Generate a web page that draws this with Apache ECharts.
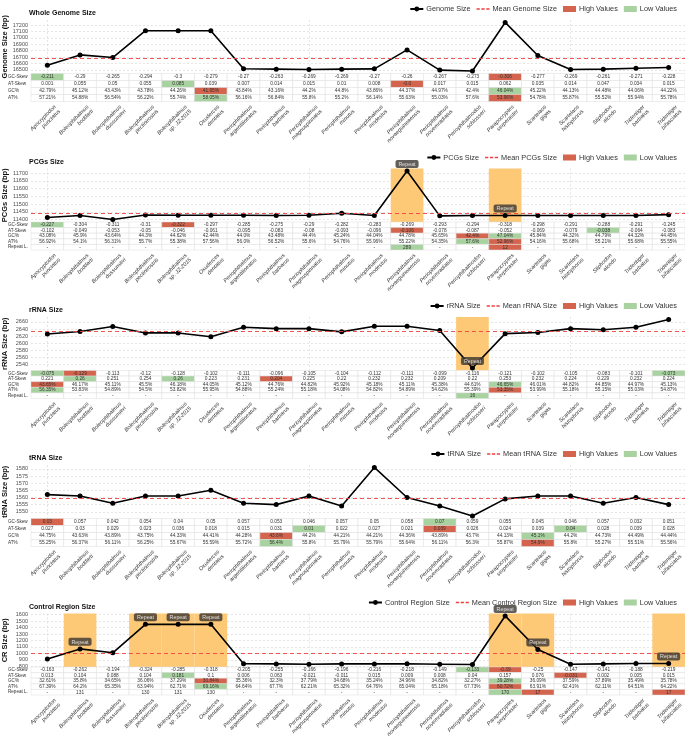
<!DOCTYPE html>
<html><head><meta charset="utf-8">
<script src="https://cdn.jsdelivr.net/npm/echarts@6/dist/echarts.min.js"></script>
<style>html,body{margin:0;padding:0;background:#fff}#c{width:685px;height:740px}</style>
</head><body><div id="c"></div>
<script>
// ---------------- DATA ----------------
const species = ['Apocryptodon punctatus','Boleophthalmus boddarti','Boleophthalmus dussumieri','Boleophthalmus pectinirostris','Boleophthalmus sp. JZ-2015','Oxuderces dentatus','Periophthalmus argentilineatus','Periophthalmus barbarus','Periophthalmus magnuspinnatus','Periophthalmus minutus','Periophthalmus modestus','Periophthalmus novaeguineaensis','Periophthalmus novemradiatus','Periophthalmodon schlosseri','Parapocryptes serperaster','Scartelaos gigas','Scartelaos histophorus','Stiphodon alcedo','Tridentiger barbatus','Tridentiger bifasciatus'];

// Whole genome
const genomeSize = [16572,16733,16692,17111,17111,17111,16516,16510,16505,16510,16515,16811,16495,16480,17241,16723,16505,16510,16525,16536];
const genomeGcSkew = ['-0.211','-0.29','-0.265','-0.294','-0.3','-0.279','-0.27','-0.263','-0.269','-0.269','-0.27','-0.26','-0.267','-0.273','-0.306','-0.277','-0.269','-0.261','-0.271','-0.228'];
const genomeAtSkew = ['0.001','0.055','0.05','0.055','0.085','0.039','0.007','0.014','0.015','0.01','0.008','-0.0','0.017','0.015','0.062','0.035','0.014','0.047','0.034','0.015'];
const genomeGc = ['42.79%','45.12%','43.43%','43.78%','44.26%','41.95%','43.84%','43.16%','44.2%','44.8%','43.86%','44.37%','44.97%','42.4%','46.04%','45.22%','44.13%','44.48%','44.06%','44.22%'];
const genomeAt = ['57.21%','54.88%','56.54%','56.22%','55.74%','58.05%','56.16%','56.84%','55.8%','55.2%','56.14%','55.63%','55.03%','57.6%','53.96%','54.78%','55.87%','55.52%','55.94%','55.78%'];
const genomeHighlights = [['GC-Skew',0,'L'],['GC-Skew',14,'H'],['AT-Skew',4,'L'],['AT-Skew',11,'H'],['GC%',5,'H'],['GC%',14,'L'],['AT%',5,'L'],['AT%',14,'H']];

// PCGs
const pcgSize = [11413,11426,11400,11430,11428,11428,11428,11426,11428,11441,11426,11715,11424,11426,11426,11426,11426,11426,11426,11432];
const pcgGcSkew = ['-0.227','-0.304','-0.311','-0.31','-0.322','-0.297','-0.285','-0.275','-0.29','-0.282','-0.283','-0.269','-0.293','-0.294','-0.318','-0.298','-0.291','-0.288','-0.291','-0.245'];
const pcgAtSkew = ['-0.102','-0.049','-0.053','-0.05','-0.046','-0.061','-0.095','-0.083','-0.08','-0.093','-0.096','-0.106','-0.078','-0.087','-0.052','-0.069','-0.079','-0.038','-0.064','-0.083'];
const pcgGc = ['43.08%','45.9%','43.64%','44.3%','44.62%','42.44%','44.0%','43.48%','44.4%','45.24%','44.04%','44.78%','45.65%','42.4%','47.04%','45.84%','44.32%','44.79%','44.32%','44.45%'];
const pcgAt = ['56.92%','54.1%','56.31%','55.7%','55.38%','57.56%','56.0%','56.52%','55.6%','54.76%','55.96%','55.22%','54.35%','57.6%','52.96%','54.16%','55.68%','55.21%','55.68%','55.55%'];
const pcgRepeat = ['-','-','-','-','-','-','-','-','-','-','-','289','-','-','12','-','-','-','-','-'];
const pcgHighlights = [['GC-Skew',0,'L'],['GC-Skew',4,'H'],['AT-Skew',11,'H'],['AT-Skew',17,'L'],['GC%',13,'H'],['GC%',14,'L'],['AT%',13,'L'],['AT%',14,'H'],['Repeat L.',11,'L'],['Repeat L.',14,'H']];

// rRNA
const rrnaSize = [2626,2633,2647,2629,2629,2618,2645,2641,2641,2632,2648,2648,2636,2530,2627,2630,2641,2638,2645,2667];
const rrnaGcSkew = ['-0.075','-0.129','-0.113','-0.12','-0.128','-0.102','-0.111','-0.096','-0.105','-0.104','-0.112','-0.111','-0.099','-0.116','-0.121','-0.102','-0.105','-0.083','-0.101','-0.073'];
const rrnaAtSkew = ['0.221','0.26','0.251','0.254','0.26','0.223','0.231','0.204','0.225','0.22','0.232','0.232','0.209','0.22','0.253','0.232','0.224','0.229','0.232','0.224'];
const rrnaGc = ['43.65%','46.17%','45.11%','45.5%','46.18%','44.05%','45.12%','44.76%','44.82%','45.92%','45.18%','45.11%','45.38%','44.61%','46.65%','46.01%','44.82%','44.85%','44.97%','45.13%'];
const rrnaAt = ['56.35%','53.83%','54.89%','54.5%','53.82%','55.95%','54.88%','55.24%','55.18%','54.08%','54.82%','54.89%','54.62%','55.39%','53.35%','53.99%','55.18%','55.15%','55.03%','54.87%'];
const rrnaRepeat = ['-','-','-','-','-','-','-','-','-','-','-','-','-','16','-','-','-','-','-','-'];
const rrnaHighlights = [['GC-Skew',0,'L'],['GC-Skew',1,'H'],['GC-Skew',19,'L'],['AT-Skew',1,'L'],['AT-Skew',4,'L'],['AT-Skew',7,'H'],['GC%',0,'H'],['GC%',14,'L'],['AT%',0,'L'],['AT%',14,'H'],['Repeat L.',13,'L']];

// tRNA
const trnaSize = [1562,1561,1556,1561,1561,1565,1556,1555,1561,1554,1581,1560,1554,1547,1559,1561,1561,1556,1560,1555];
const trnaGcSkew = ['0.03','0.057','0.042','0.054','0.04','0.05','0.057','0.053','0.046','0.057','0.05','0.058','0.07','0.059','0.055','0.045','0.046','0.057','0.032','0.051'];
const trnaAtSkew = ['0.027','0.03','0.029','0.023','0.036','0.018','0.015','0.031','0.01','0.022','0.027','0.021','0.039','0.026','0.024','0.039','0.04','0.028','0.039','0.028'];
const trnaGc = ['44.75%','43.63%','43.89%','43.75%','44.33%','44.41%','44.28%','43.6%','44.2%','44.21%','44.21%','44.36%','43.89%','43.7%','44.13%','45.1%','44.2%','44.73%','44.49%','44.44%'];
const trnaAt = ['55.25%','56.37%','56.11%','56.25%','55.67%','55.59%','55.72%','56.4%','55.8%','55.79%','55.79%','55.64%','56.11%','56.3%','55.87%','54.9%','55.8%','55.27%','55.51%','55.56%'];
const trnaHighlights = [['GC-Skew',0,'H'],['GC-Skew',12,'L'],['AT-Skew',8,'L'],['AT-Skew',12,'H'],['AT-Skew',16,'L'],['GC%',7,'H'],['GC%',15,'L'],['AT%',7,'L'],['AT%',15,'H']];

// Control region
const crSize = [915,1070,1010,1450,1450,1450,840,838,833,838,838,840,833,828,1580,1060,833,838,845,845];
const crGcSkew = ['-0.163','-0.262','-0.194','-0.324','-0.285','-0.318','-0.205','-0.255','-0.166','-0.196','-0.216','-0.218','-0.149','-0.133','-0.39','-0.25','-0.147','-0.141','-0.188','-0.219'];
const crAtSkew = ['0.013','0.104','0.088','0.104','0.181','0.1','0.006','0.063','-0.021','-0.011','0.015','0.009','0.008','0.04','0.157','0.076','-0.031','0.002','0.005','0.015'];
const crGc = ['32.61%','35.8%','34.65%','36.06%','37.29%','30.84%','35.36%','32.3%','37.79%','34.68%','35.24%','34.96%','34.82%','32.27%','39.28%','36.09%','37.59%','37.89%','35.49%','35.78%'];
const crAt = ['67.39%','64.2%','65.35%','63.94%','62.71%','69.16%','64.64%','67.7%','62.21%','65.32%','64.76%','65.04%','65.18%','67.73%','60.72%','63.91%','62.41%','62.11%','64.51%','64.22%'];
const crRepeat = ['-','131','-','130','131','130','-','-','-','-','-','-','-','-','170','17','-','-','-','17'];
const crHighlights = [['GC-Skew',13,'L'],['GC-Skew',14,'H'],['AT-Skew',4,'L'],['AT-Skew',16,'H'],['GC%',5,'H'],['GC%',14,'L'],['AT%',5,'L'],['AT%',14,'H'],['Repeat L.',14,'L'],['Repeat L.',15,'H'],['Repeat L.',19,'H']];

// ---------------- STYLE / LAYOUT ----------------
const FONT = "'Liberation Sans', Arial, sans-serif";
const HIGH = '#d4644d', LOW = '#a8d3a0', RED = '#f04040', BAND = '#fdc977', GRIDC = '#d4d4d4';
const DASH_ICON = 'path://M0,0h4v1.6h-4z M6,0h4v1.6h-4z M12,0h4v1.6h-4z';

const panels = [
  {title:'Whole Genome Size', yName:'Genome Size (bp)', name:'Genome Size', mean:'Mean Genome Size', top:0, step:100, values:genomeSize,
   rows:[['GC-Skew',genomeGcSkew],['AT-Skew',genomeAtSkew],['GC%',genomeGc],['AT%',genomeAt]], hl:genomeHighlights, repeat:null},
  {title:'PCGs Size', yName:'PCGs Size (bp)', name:'PCGs Size', mean:'Mean PCGs Size', top:148.5, step:50, values:pcgSize,
   rows:[['GC-Skew',pcgGcSkew],['AT-Skew',pcgAtSkew],['GC%',pcgGc],['AT%',pcgAt],['Repeat L.',pcgRepeat]], hl:pcgHighlights, repeat:pcgRepeat},
  {title:'rRNA Size', yName:'rRNA Size (bp)', name:'rRNA Size', mean:'Mean rRNA Size', top:297, step:20, values:rrnaSize,
   rows:[['GC-Skew',rrnaGcSkew],['AT-Skew',rrnaAtSkew],['GC%',rrnaGc],['AT%',rrnaAt],['Repeat L.',rrnaRepeat]], hl:rrnaHighlights, repeat:rrnaRepeat},
  {title:'tRNA Size', yName:'tRNA Size (bp)', name:'tRNA Size', mean:'Mean tRNA Size', top:445, step:5, values:trnaSize,
   rows:[['GC-Skew',trnaGcSkew],['AT-Skew',trnaAtSkew],['GC%',trnaGc],['AT%',trnaAt]], hl:trnaHighlights, repeat:null},
  {title:'Control Region Size', yName:'CR Size (bp)', name:'Control Region Size', mean:'Mean Control Region Size', top:593.5, step:100, values:crSize,
   rows:[['GC-Skew',crGcSkew],['AT-Skew',crAtSkew],['GC%',crGc],['AT%',crAt],['Repeat L.',crRepeat]], hl:crHighlights, repeat:crRepeat}
];

const grids=[], xAxes=[], yAxes=[], series=[], legends=[], titles=[];
const isMult = (v, s) => Math.abs(v / s - Math.round(v / s)) < 1e-6;

panels.forEach((p, k) => {
  const T = p.top;
  const plotTop = T + 20, plotBottom = T + 73.5, tableH = 28;
  const gp = 2 * k, gt = 2 * k + 1;
  grids.push({left:31, right:0, top:plotTop, height:plotBottom - plotTop, containLabel:false, outerBoundsMode:'none'});
  grids.push({left:31, right:0, top:plotBottom, height:tableH, containLabel:false, outerBoundsMode:'none'});

  xAxes.push({gridIndex:gp, type:'category', data:species, boundaryGap:true,
    axisLine:{show:false}, axisTick:{show:false}, axisLabel:{show:false},
    splitLine:{show:true, alignWithLabel:true, lineStyle:{color:GRIDC, type:[2,2], width:0.6}}});
  xAxes.push({gridIndex:gt, type:'category', data:species, boundaryGap:true, position:'bottom',
    axisLine:{show:false}, axisTick:{show:false}, splitLine:{show:false},
    axisLabel:{interval:0, rotate:45, fontSize:5.5, fontStyle:'italic', color:'#333', fontFamily:FONT,
      margin:8, align:'right', verticalAlign:'top', lineHeight:6.2, padding:[0,-8,0,0],
      formatter: s => s.replace(' ', '\n')}});

  yAxes.push({gridIndex:gp, type:'value',
    min: v => v.min - (v.max - v.min) * 0.05,
    max: v => v.max + (v.max - v.min) * 0.05,
    minInterval:p.step, maxInterval:p.step,
    axisLine:{show:false}, axisTick:{show:false},
    axisLabel:{fontSize:5.5, color:'#4d4d4d', margin:3, fontFamily:FONT,
      formatter: v => isMult(v, p.step) ? String(Math.round(v)) : ''},
    splitLine:{show:true, showMinLine:false, showMaxLine:false, lineStyle:{color:GRIDC, type:[2,2], width:0.6}},
    name:p.yName, nameLocation:'middle', nameGap:22, nameRotate:90, nameMoveOverlap:false,
    nameTextStyle:{fontSize:7.5, fontWeight:'bold', color:'#111', fontFamily:FONT}});
  yAxes.push({gridIndex:gt, type:'category', data:p.rows.map(r => r[0]), inverse:true,
    axisLine:{show:false}, axisTick:{show:false}, splitLine:{show:false},
    axisLabel:{interval:0, fontSize:4.6, color:'#333', align:'left', margin:23, fontFamily:FONT, hideOverlap:false}});

  // repeat bands + labels
  const repIdx = p.repeat ? p.repeat.map((v, i) => v !== '-' ? i : -1).filter(i => i >= 0) : [];
  if (repIdx.length) {
    series.push({type:'custom', xAxisIndex:gp, yAxisIndex:gp, z:1, silent:true,
      data: repIdx.map(i => [i, p.values[i]]),
      renderItem: (params, api) => {
        const c = api.coord([api.value(0), api.value(1)]);
        const w = api.size([1, 0])[0];
        const cs = params.coordSys;
        return {type:'rect', shape:{x:c[0] - w / 2, y:cs.y, width:w, height:cs.height}, style:{fill:BAND}};
      }});
  }
  series.push({type:'line', name:p.name, xAxisIndex:gp, yAxisIndex:gp, data:p.values, z:3, silent:true,
    symbol:'circle', symbolSize:5, itemStyle:{color:'#000'}, lineStyle:{color:'#000', width:1.6}});
  const meanVal = p.values.reduce((a, b) => a + b, 0) / p.values.length;
  series.push({type:'line', name:p.mean, xAxisIndex:gp, yAxisIndex:gp, data:[], symbol:'none', z:2,
    itemStyle:{color:RED}, lineStyle:{color:RED, type:[4,3], width:1},
    markLine:{silent:true, symbol:['none','none'], label:{show:false}, animation:false,
      lineStyle:{color:RED, type:[4,3], width:0.9}, data:[{yAxis:meanVal}]}});
  if (repIdx.length) {
    series.push({type:'scatter', xAxisIndex:gp, yAxisIndex:gp, z:6, silent:true,
      data: repIdx.map(i => [i, p.values[i]]), symbolSize:0.1, itemStyle:{color:'rgba(0,0,0,0)'},
      label:{show:true, formatter:'Repeat', position:'top', distance:3, fontSize:5.3, color:'#fff',
        backgroundColor:'#3b3631', borderRadius:2, padding:[1.8,3,1.2,3], fontFamily:FONT}});
  }

  // table cells
  const cells = [];
  p.rows.forEach((r, ri) => r[1].forEach((t, ci) => {
    const h = p.hl.find(e => e[0] === r[0] && e[1] === ci);
    cells.push({x:ci, y:ri, t, s: h ? h[2] : ''});
  }));
  series.push({type:'custom', xAxisIndex:gt, yAxisIndex:gt, silent:true,
    data: cells.map(c => [c.x, c.y]),
    renderItem: (params, api) => {
      const cell = cells[params.dataIndex];
      const c = api.coord([api.value(0), api.value(1)]);
      const s = api.size([1, 1]);
      const fill = cell.s === 'H' ? HIGH : cell.s === 'L' ? LOW : '#fff';
      return {type:'group', children:[
        {type:'rect', shape:{x:c[0] - s[0] / 2, y:c[1] - s[1] / 2, width:s[0], height:s[1]},
          style:{fill, stroke:'#dcdcdc', lineWidth:0.5}},
        {type:'text', style:{text:cell.t, x:c[0], y:c[1], align:'center', verticalAlign:'middle',
          fontSize:4.8, fill:'#333', fontFamily:FONT}}
      ]};
    }});

  legends.push({top:T + 0.5, right:3, itemWidth:13, itemHeight:6, itemGap:6, selectedMode:false,
    textStyle:{fontSize:7.3, color:'#333', fontFamily:FONT, padding:[0,0,0,-2]},
    data:[{name:p.name}, {name:p.mean, icon:DASH_ICON, itemStyle:{color:RED}}, {name:'High Values', icon:'rect'}, {name:'Low Values', icon:'rect'}]});
  titles.push({text:p.title, left:29, top:T + 9.8, padding:0,
    textStyle:{fontSize:7, fontWeight:'bold', color:'#111', fontFamily:FONT}});
});

series.push({type:'bar', name:'High Values', xAxisIndex:1, yAxisIndex:1, data:[], itemStyle:{color:HIGH}});
series.push({type:'bar', name:'Low Values', xAxisIndex:1, yAxisIndex:1, data:[], itemStyle:{color:LOW}});

const chart = echarts.init(document.getElementById('c'), null, {renderer:'canvas'});
chart.setOption({animation:false, backgroundColor:'#fff', title:titles, legend:legends,
  grid:grids, xAxis:xAxes, yAxis:yAxes, series});
</script></body></html>
